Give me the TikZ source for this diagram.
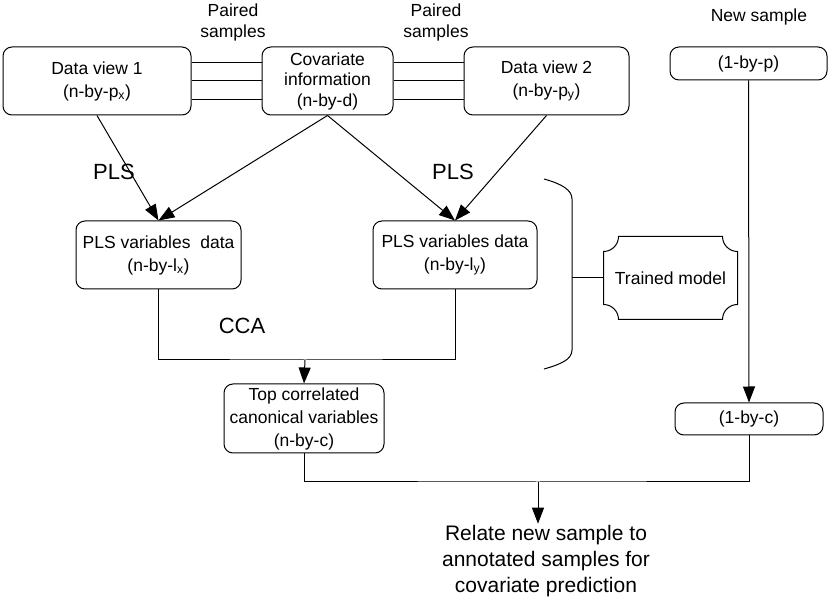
\documentclass[tikz,border=0pt]{standalone}
\usepackage{fontspec}
\setmainfont{Liberation Sans}
\usetikzlibrary{arrows.meta}
\begin{document}
\begin{tikzpicture}[x=1pt,y=-1pt,line width=1pt,
  box/.style={draw, rounded corners=9pt, align=center, inner sep=1pt, font=\fontsize{17.5}{23}\selectfont},
  lbl/.style={align=center, inner sep=0pt, font=\fontsize{17.5}{21}\selectfont},
  big/.style={align=center, inner sep=1pt, font=\fontsize{22}{26}\selectfont},
  arr/.style={-{Triangle[length=16pt,width=12pt]}}]
  \useasboundingbox (0,0) rectangle (828,601);
  \node[box, minimum width=188pt, minimum height=68pt] (dv1) at (97,81) {Data view 1\\(n-by-p\textsubscript{x})};
  \node[box, minimum width=131pt, minimum height=68pt, font=\fontsize{17.5}{20.5}\selectfont] (cov) at (327.5,81) {Covariate\\information\\(n-by-d)};
  \node[box, minimum width=165pt, minimum height=68pt] (dv2) at (546.5,81) {Data view 2\\(n-by-p\textsubscript{y})};
  \node[box, minimum width=157pt, minimum height=33pt] (newp) at (748.5,63.5) {(1-by-p)};
  \node[lbl] (pair1) at (233,22) {Paired\\samples};
  \node[lbl] (pair2) at (436,22) {Paired\\samples};
  \node[lbl] (newlbl) at (759,17) {New sample};
  \foreach \s in {18,0,-19} {
    \draw ([yshift=\s pt]dv1.east) -- ([yshift=\s pt]cov.west);
    \draw ([yshift=\s pt]cov.east) -- ([yshift=\s pt]dv2.west);
  }
  \node[box, minimum width=165pt, minimum height=68pt] (plsx) at (158.5,255) {PLS variables\ \ data\\(n-by-l\textsubscript{x})};
  \node[box, minimum width=164pt, minimum height=68pt] (plsy) at (455,255) {PLS variables data\\(n-by-l\textsubscript{y})};
  \node[big] (plsl) at (114,172) {PLS};
  \node[big] (plsr) at (453,172) {PLS};
  \draw[arr] (dv1.south) -- (plsx.north);
  \draw[arr] (cov.south) -- (plsx.north);
  \draw[arr] (cov.south) -- (plsy.north);
  \draw[arr] (dv2.south) -- (plsy.north);
  \node[box, minimum width=160pt, minimum height=69pt] (top) at (304,418.5) {Top correlated\\canonical variables\\(n-by-c)};
  \node[big] (cca) at (242,326) {CCA};
  \coordinate (ccajoin) at (305,360);
  \draw (plsx.south) |- (ccajoin) -| (plsy.south);
  \draw[arr] (ccajoin) -- (top.north);
  % trained model with notched corners
  \node[lbl, minimum width=133pt, minimum height=82pt] (trained) at (670.5,278) {Trained model};
  \draw ([xshift=15pt]trained.north west) -- ([xshift=-15pt]trained.north east)
    arc[start angle=180,end angle=270,radius=15pt] -- ([yshift=15pt]trained.south east)
    arc[start angle=90,end angle=180,radius=15pt] -- ([xshift=15pt]trained.south west)
    arc[start angle=0,end angle=90,radius=15pt] -- ([yshift=-15pt]trained.north west)
    arc[start angle=270,end angle=360,radius=15pt] -- cycle;
  \draw (544,179) .. controls (562,184) and (572,190) .. (572,199) -- (572,350)
    .. controls (572,359) and (562,364) .. (544,369);
  \coordinate (bracetip) at (572,278);
  \draw (bracetip) -- (trained.west);
  \node[box, minimum width=148pt, minimum height=32pt] (newc) at (749,419) {(1-by-c)};
  \draw[arr] (newp.south) -- (newc.north);
  \node[align=center, inner sep=1pt, font=\fontsize{21}{26}\selectfont] (relate) at (546,561) {Relate new sample to\\annotated samples for\\covariate prediction};
  \coordinate (outjoin) at (538,482);
  \draw (top.south) |- (outjoin) -| (newc.south);
  \draw[arr] (outjoin) -- (outjoin |- relate.north);
\end{tikzpicture}
\end{document}
